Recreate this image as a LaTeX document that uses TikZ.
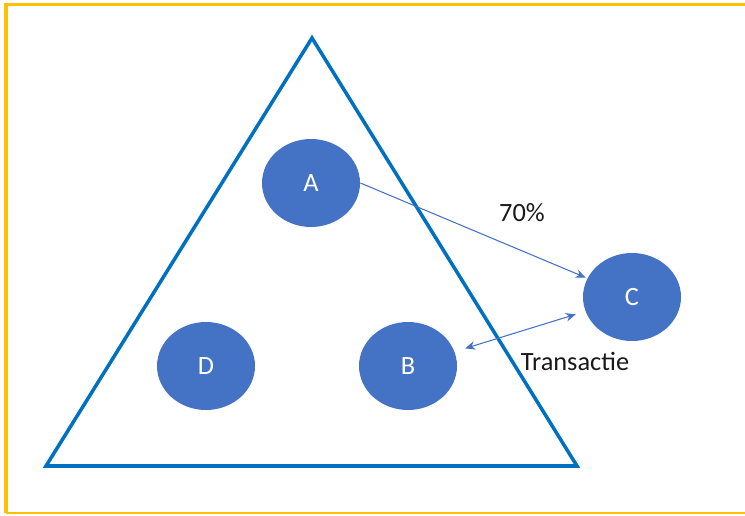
\documentclass[tikz,border=0pt]{standalone}
\usepackage{fontspec}
\setmainfont{Carlito}
\usetikzlibrary{arrows.meta,shapes.geometric}

\definecolor{frameyellow}{HTML}{FFC000}
\definecolor{triblue}{HTML}{0070C0}
\definecolor{partyblue}{HTML}{4472C4}

\tikzset{
	party/.style={ellipse, fill=partyblue, draw=none, minimum width=1.96cm, minimum height=1.76cm, inner sep=0pt, text=white, font=\fontsize{15}{18}\selectfont},
	flow/.style={draw=partyblue, line width=0.6pt, -{Stealth[length=2mm,width=1.7mm]}},
	lbl/.style={text=black!90, font=\fontsize{15}{18}\selectfont}
}

\begin{document}
\begin{tikzpicture}
			%%%%% START %%%%%
			\useasboundingbox (0, 0) rectangle (14.9, 10.3);
			
			% frame
			\draw[line width=2pt, color=frameyellow] (0.12, 0.04) -- (0.12, 10.21) -- (14.9, 10.21);
			\draw[line width=0.8pt, color=frameyellow] (0.12, 0.04) -- (14.9, 0.04);
			
			% triangle
			\draw[line width=2pt, color=triblue, line join=miter] (6.24, 9.54) -- (0.92, 0.98) -- (11.54, 0.98) -- cycle;
			
			\node[party] (A) at (6.22, 6.64) {A};
			\node[party] (D) at (4.12, 2.98) {D};
			\node[party] (B) at (8.16, 2.98) {B};
			\node[party] (C) at (12.64, 4.36) {C};
			
			\draw[flow, shorten >=1pt] (A.east) -- (C);
			\draw[flow, {Stealth[length=2mm,width=1.7mm]}-{Stealth[length=2mm,width=1.7mm]}, shorten <=0.22cm, shorten >=0.2cm] (B) -- (C);
			
			\node[lbl] (share) at (10.44, 6.04) {70\%};
			\node[lbl] (trade) at (11.50, 3.08) {Transactie};
			
			%%%%% END %%%%%
		\end{tikzpicture}
\end{document}
